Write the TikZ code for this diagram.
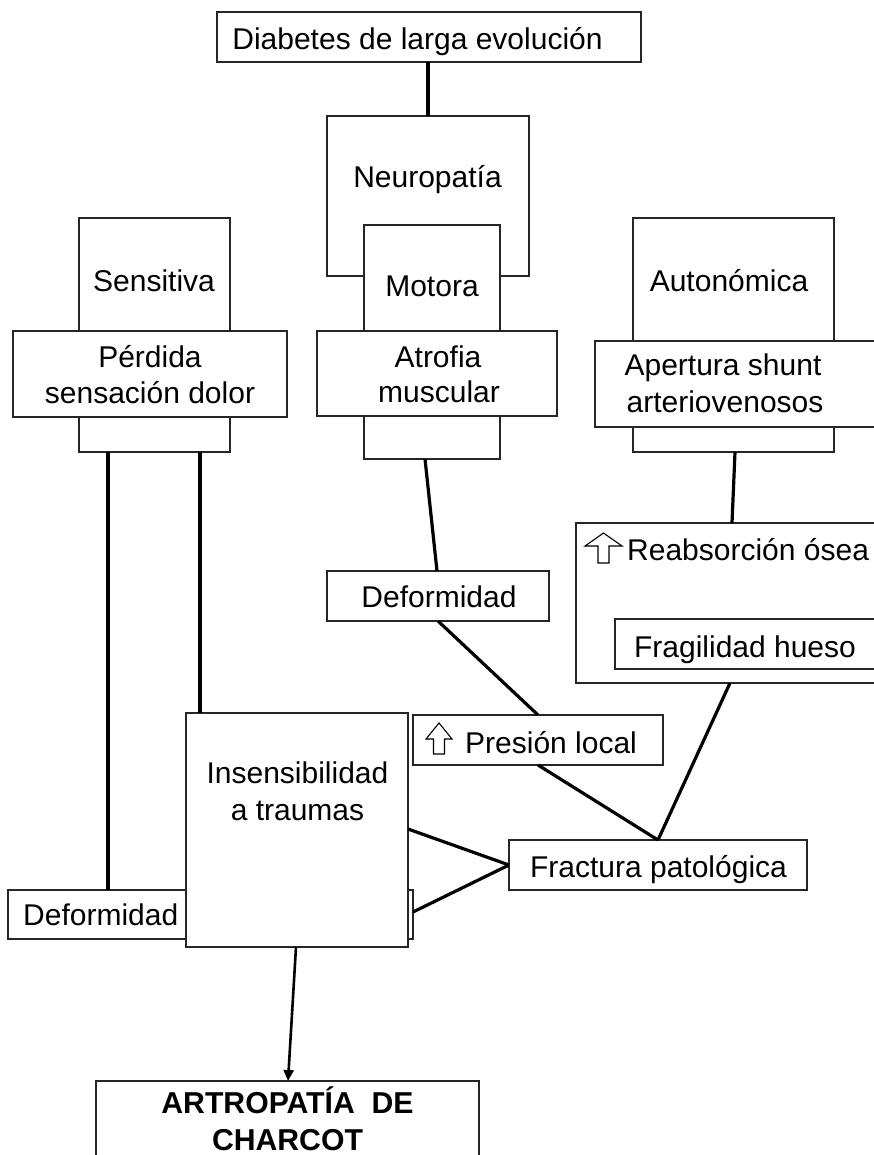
\documentclass[tikz,border=0pt]{standalone}
\usepackage{fontspec}
\setmainfont{Liberation Sans}
\usetikzlibrary{arrows.meta}
\begin{document}
\begin{tikzpicture}[x=1pt,y=-1pt,
  box/.style={draw=black!85, line width=1.2pt, fill=white, anchor=north west, inner sep=0pt, outer sep=0pt},
  conn/.style={line width=3.2pt, black},
  txt/.style={font=\fontsize{30}{36}\selectfont, inner sep=0pt, anchor=base},
  txtw/.style={txt, anchor=base west},
  btxt/.style={font=\fontsize{30.2}{36}\selectfont\bfseries, inner sep=0pt, anchor=base},
  glyph/.style={draw=black, line width=1.1pt, fill=white, line join=miter}
]
\useasboundingbox (0,0) rectangle (874,1155);
\clip (0,0) rectangle (874,1155);
\fill[white] (0,0) rectangle (874,1155);

% boxes
\node[box, minimum width=424pt, minimum height=50pt] (diab) at (217,12) {};
\node[box, minimum width=202pt, minimum height=160pt] (neuro) at (327,116) {};
\node[box, minimum width=136pt, minimum height=234pt] (mot) at (364,225) {};
\node[box, minimum width=240pt, minimum height=85pt] (atro) at (317,331) {};
\node[box, minimum width=151pt, minimum height=234pt] (sens) at (79,218) {};
\node[box, minimum width=274pt, minimum height=86pt] (perd) at (13,331) {};
\node[box, minimum width=201pt, minimum height=234pt] (auto) at (633,218) {};
\node[box, minimum width=290pt, minimum height=86pt] (aper) at (595,341) {};
\node[box, minimum width=222pt, minimum height=50pt] (defu) at (327,571) {};
\node[box, minimum width=310pt, minimum height=160pt] (reab) at (576,523) {};
\node[box, minimum width=270pt, minimum height=50pt] (frag) at (615,619) {};
\node[box, minimum width=250pt, minimum height=50pt] (pres) at (413,715) {};
\node[box, minimum width=298pt, minimum height=50pt] (fract) at (509,840) {};
\node[box, minimum width=405pt, minimum height=49pt] (defl) at (8,890) {};
\node[box, minimum width=222pt, minimum height=234pt] (insens) at (186,713) {};
\node[box, minimum width=383pt, minimum height=120pt] (artro) at (96,1081) {};

% connectors
\draw[conn] (diab.south -| 428,0) -- (neuro.north -| 428,0);
\draw[conn] (sens.south -| 108,0) -- (defl.north -| 108,0);
\draw[conn] (sens.south -| 200,0) -- (insens.north -| 200,0);
\draw[conn] (mot.south -| 425,0) -- (defu.north -| 437,0);
\draw[conn] (auto.south -| 735,0) -- (reab.north -| 732,0);
\draw[conn] (defu.south -| 438,0) -- (pres.north -| 538,0);
\draw[conn] (pres.south -| 538,0) -- (fract.north -| 658,0);
\draw[conn] (reab.south -| 730,0) -- (fract.north -| 658,0);
\draw[conn] (fract.west |- 0,865) -- (insens.east |- 0,829);
\draw[conn] (fract.west |- 0,865) -- (defl.east |- 0,912);
\draw[line width=2.6pt, -{Triangle[length=11pt,width=10pt]}] (insens.south -| 296,0) -- (artro.north -| 288,0);

% hollow up arrows
\draw[glyph] (603.5,533) -- (622,546) -- (609,546) -- (609,563) -- (598,563) -- (598,546) -- (585,546) -- cycle;
\draw[glyph] (439,723) -- (452,739) -- (444.5,739) -- (444.5,754) -- (433.5,754) -- (433.5,739) -- (426,739) -- cycle;

% texts
\node[txt] (tdiab) at (417.5,50) {Diabetes de larga evolución};
\node[txt] (tneuro) at (427.5,188) {Neuropatía};
\node[txt] (tmot) at (432,297) {Motora};
\node[txt] (tatro1) at (438,367) {Atrofia};
\node[txt] (tatro2) at (439,402) {muscular};
\node[txt] (tsens) at (154,291) {Sensitiva};
\node[txt] (tperd1) at (150,367) {Pérdida};
\node[txt] (tperd2) at (150,403) {sensación dolor};
\node[txt] (tauto) at (729,291) {Autonómica};
\node[txt] (taper1) at (723,375) {Apertura shunt};
\node[txt] (taper2) at (725,412) {arteriovenosos};
\node[txt] (tdefu) at (439,607) {Deformidad};
\node[txtw] (treab) at (627,560) {Reabsorción ósea};
\node[txt] (tfrag) at (745,657) {Fragilidad hueso};
\node[txtw] (tpres) at (465,753) {Presión local};
\node[txt] (tfract) at (658.5,877) {Fractura patológica};
\node[txt] (tins1) at (297.5,783) {Insensibilidad};
\node[txt] (tins2) at (297.5,820) {a traumas};
\node[txtw] (tdefl) at (23,925) {Deformidad};
\node[btxt] (tart1) at (287.5,1113) {ARTROPATÍA\ \ DE};
\node[btxt] (tart2) at (287.5,1150) {CHARCOT};
\end{tikzpicture}
\end{document}
